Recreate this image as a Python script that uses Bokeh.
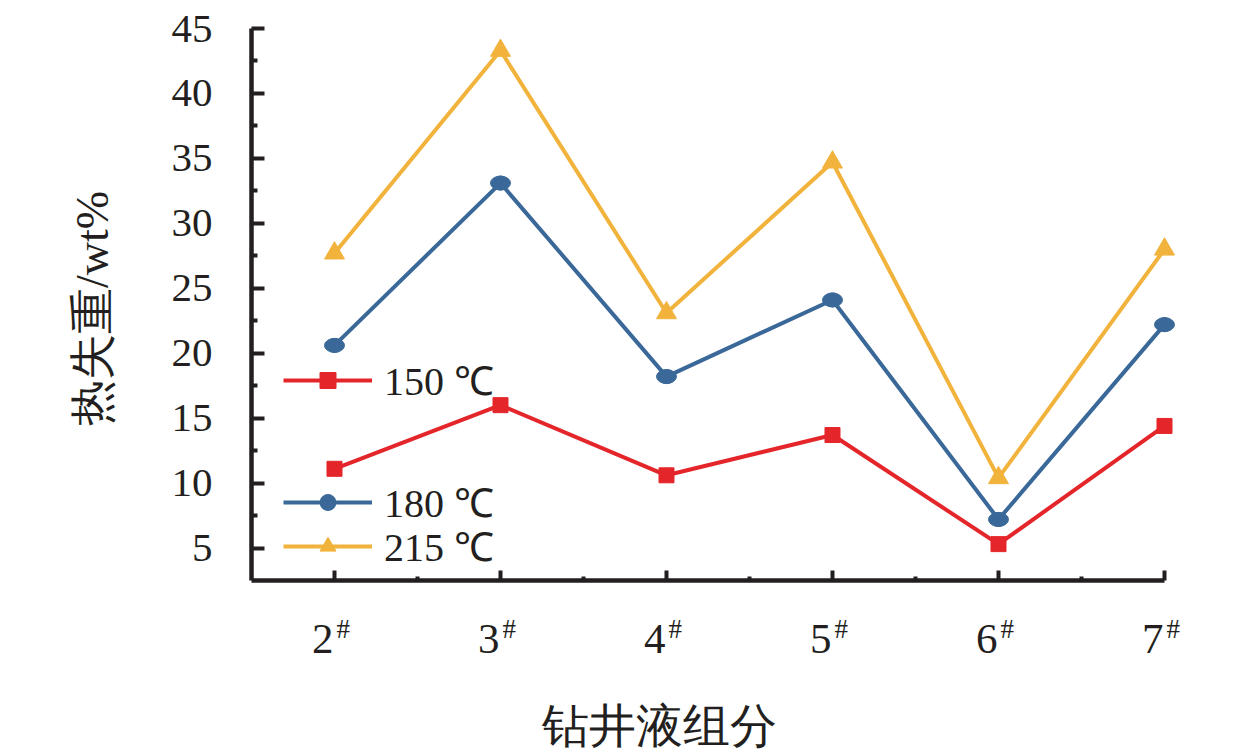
import math
from bokeh.plotting import figure
from bokeh.models import Range1d, FixedTicker, Legend, LegendItem, Label
from bokeh.core.properties import value
from bokeh.embed import file_html
from bokeh.resources import INLINE

# ---- data ----
sample_ids = [2, 3, 4, 5, 6, 7]
tick_labels = ["2", "3", "4", "5", "6", "7"]
sup_mark = "#"
series_names = ["150 ℃", "180 ℃", "215 ℃"]
loss_150 = [11.1, 16.0, 10.6, 13.7, 5.3, 14.4]
loss_180 = [20.6, 33.1, 18.2, 24.1, 7.2, 22.2]
loss_215 = [27.7, 43.3, 23.1, 34.7, 10.4, 28.0]
y_ticks = [5, 10, 15, 20, 25, 30, 35, 40, 45]
axis_floor = 2.5
x_title = "钻井液组分"
y_title = "热失重/wt%"

RED = "#E4262A"
BLUE = "#3A6999"
YELLOW = "#F2B33D"
INK = "#231F20"
SERIF = "Liberation Serif"

x_left = sample_ids[0] - 0.5
W, H = 1244, 756
# the frame covers the whole canvas; axes are pinned at the floor values
p = figure(width=W, height=H, output_backend="svg", toolbar_location=None,
           x_range=Range1d(-0.012, 7.482),
           y_range=Range1d(-11.05, 47.156),
           min_border_left=0, min_border_right=0,
           min_border_top=0, min_border_bottom=0)
p.outline_line_color = None
p.grid.visible = False
p.background_fill_color = "white"
p.border_fill_color = "white"

# ---- x axis ----
xa = p.xaxis[0]
xa.fixed_location = axis_floor
xa.bounds = (x_left, sample_ids[-1])
xa.ticker = FixedTicker(ticks=sample_ids, minor_ticks=[s + 0.5 for s in sample_ids[:-1]])
xa.major_label_overrides = {s: "" for s in sample_ids}
xa.axis_line_width = 4.5
xa.axis_line_color = INK
xa.major_tick_line_width = 4
xa.major_tick_line_color = INK
xa.minor_tick_line_width = 4
xa.minor_tick_line_color = INK
xa.major_tick_in = 10
xa.major_tick_out = 0
xa.minor_tick_in = 4
xa.minor_tick_out = 0

# ---- y axis ----
ya = p.yaxis[0]
ya.fixed_location = x_left
ya.bounds = (axis_floor, y_ticks[-1])
ya.ticker = FixedTicker(ticks=y_ticks, minor_ticks=[t + 2.5 for t in y_ticks[:-1]])
ya.axis_line_width = 4.5
ya.axis_line_color = INK
ya.major_tick_line_width = 4
ya.major_tick_line_color = INK
ya.minor_tick_line_width = 4
ya.minor_tick_line_color = INK
ya.major_tick_in = 13
ya.major_tick_out = 0
ya.minor_tick_in = 6
ya.minor_tick_out = 0
ya.major_label_text_font = SERIF
ya.major_label_text_font_size = "41px"
ya.major_label_text_color = INK
ya.major_label_standoff = 39

# ---- series ----
l150 = p.line(sample_ids, loss_150, line_color=RED, line_width=4)
m150 = p.scatter(sample_ids, loss_150, marker="square", size=15, fill_color=RED, line_color=RED)

l180 = p.line(sample_ids, loss_180, line_color=BLUE, line_width=4)
m180 = p.scatter(sample_ids, loss_180, marker="circle", size=14, fill_color=BLUE, line_color=BLUE)
p.ellipse(sample_ids, loss_180, width=20, height=14, width_units="screen", height_units="screen",
          fill_color=BLUE, line_color=BLUE)

l215 = p.line(sample_ids, loss_215, line_color=YELLOW, line_width=4)
m215 = p.scatter(sample_ids, loss_215, marker="triangle", size=20, fill_color=YELLOW, line_color=YELLOW)

# ---- legends (one per entry, as in the reference) ----
def make_legend(name, rends, loc):
    return Legend(items=[LegendItem(label=name, renderers=rends)], location=loc,
                  glyph_width=89, glyph_height=40, label_height=40,
                  label_standoff=12, padding=0, margin=0,
                  border_line_color=None, background_fill_alpha=0,
                  label_text_font=SERIF, label_text_font_size="40px",
                  label_text_color=INK)

p.add_layout(make_legend(series_names[0], [l150, m150], (283, 349)), "center")
p.add_layout(make_legend(series_names[1], [l180, m180], (283, 227)), "center")
p.add_layout(make_legend(series_names[2], [l215, m215], (283, 183)), "center")

# ---- x tick labels with superscript mark ----
p.text(x=sample_ids, y=axis_floor, text=tick_labels, x_offset=-1, y_offset=58,
       text_align="right", text_baseline="alphabetic",
       text_font=value(SERIF), text_font_size="43px", text_color=INK)
p.text(x=sample_ids, y=axis_floor, text=[sup_mark] * len(sample_ids), x_offset=2, y_offset=48,
       text_align="left", text_baseline="alphabetic",
       text_font=value(SERIF), text_font_size="27px", text_color=INK)

# ---- axis titles ----
p.add_layout(Label(x=3.96, y=-8.7, text=x_title,
                   text_align="center", text_baseline="middle",
                   text_font=SERIF, text_font_size="47px", text_color=INK))
p.add_layout(Label(x=0.54, y=(axis_floor + y_ticks[-1]) / 2 - 0.3, text=y_title, angle=math.pi / 2,
                   text_align="center", text_baseline="middle",
                   text_font=SERIF, text_font_size="46px", text_color=INK))

open("out.html", "w").write(file_html(p, INLINE))
